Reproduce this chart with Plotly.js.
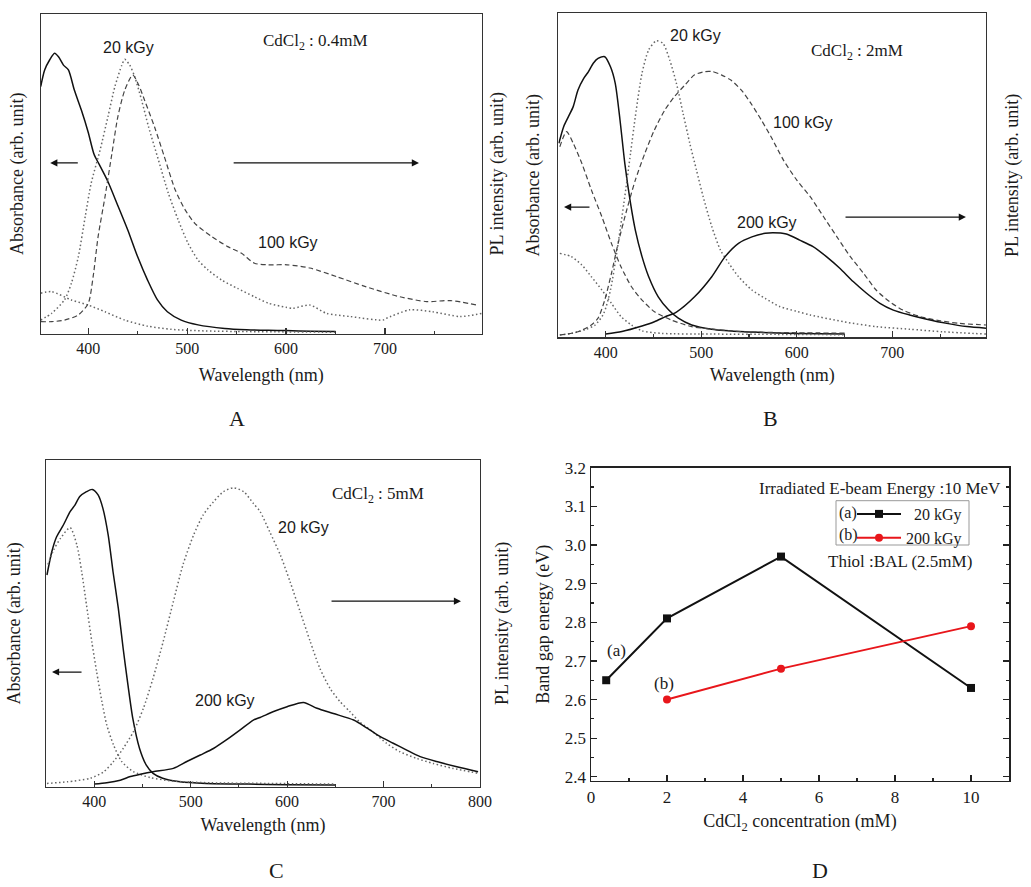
<!DOCTYPE html>
<html>
<head>
<meta charset="utf-8">
<script src="https://cdn.plot.ly/plotly-3.0.1.min.js"></script>
<style>html,body{margin:0;padding:0;background:#fff;}#chart{width:1031px;height:887px;}</style>
</head>
<body>
<div id="chart"></div>
<script>
// ---------------- DATA ----------------
// Panel A : CdCl2 0.4 mM
const A_abs_solid_x = [352,356,361,366,370,375,380,386,393,400,406,411,420,430,440,450,460,470,480,494,511,538,560,582,600,625,650];
const A_abs_solid_y = [77.3,82.5,85.6,87.7,86.6,84,82.5,76.2,70,63,56,53,47.5,40,32.4,24,16.7,10.5,6.8,4.2,2.7,1.6,1.2,1.0,0.9,0.7,0.6];
const A_abs_dot_x = [352,363,383,400,417,437,460,484,518,560,600,650];
const A_abs_dot_y = [12.6,13.1,10.5,8.9,6.8,4.2,2.3,1.3,0.8,0.6,0.5,0.4];
const A_pl20_x = [352,363,376,383,390,397,403,412,420,427,434,437,442,447,454,461,471,481,491,501,511,521,535,551,568,582,600,607,624,641,665,698,701,725,748,776,798];
const A_pl20_y = [4.2,6.3,10.5,15.7,24,36.6,47,57.4,67.9,77.3,84,85.8,84,80.4,73,64.7,54.3,43.9,35.5,28.2,23,19.9,16.7,14.1,11.5,9.5,8.2,7.9,8.9,6.3,5.3,4.2,4.7,7.4,6.8,5.3,6.3];
const A_pl100_x = [352,363,376,390,400,405,410,417,424,430,437,445,451,457,467,477,488,498,508,525,541,555,568,582,601,624,651,681,715,742,766,793];
const A_pl100_y = [3.7,3.7,4.2,5.8,9.4,17.8,30.3,42.8,56.4,67.9,76.2,80.9,77.8,73,64.7,55.3,44.9,38.7,34.4,30.3,27.2,25.1,22,21.5,21.5,20.5,17.8,14.6,11.5,10,10.3,8.9];

// Panel B : CdCl2 2 mM
const B_abs_solid_x = [351,356,361,366,371,377,382,387,392,399,405,410,415,420,426,431,438,445,455,466,476,490,511,546,600,650];
const B_abs_solid_y = [59.9,65,68.1,71.2,76.3,79.9,82,84.6,86.1,86.6,83.5,78.4,67,53.7,41.3,33.1,24.9,18.7,12.5,8.4,5.9,3.8,2.5,1.7,1.2,1.0];
const B_abs_dash_x = [352,359,366,375,385,396,406,416,427,438,451,469,490,518,546,600,650];
const B_abs_dash_y = [58.8,63.5,59.9,53.7,45.5,37.2,29,21.8,15.6,11.5,7.9,5.3,3.3,2.3,1.7,1.4,1.3];
const B_abs_dot_x = [352,364,375,385,396,406,416,427,438,459,511,580,650];
const B_abs_dot_y = [25.9,24.9,22.3,18.7,14.6,10.5,6.4,3.8,2,1.2,1,0.9,0.8];
const B_pl20_x = [352,364,378,389,398,405,412,419,426,431,438,445,453,460,467,474,481,488,495,502,511,520,529,539,553,567,582,600,614,649,683,718,753,798];
const B_pl20_y = [0.7,1.2,2.3,3.8,7.4,14.6,27,41.3,56.8,68.1,81.5,88.7,91.5,90.7,85.6,78.4,69.1,59.9,51.6,43.4,34.2,27,22.8,18.7,14.6,12,9.5,8,6.9,4.8,3.3,2.5,1.7,1];
const B_pl100_x = [352,371,385,392,399,406,413,422,431,441,451,462,472,483,493,504,512,521,531,542,552,563,573,586,600,614,628,642,656,670,683,697,711,729,750,770,798];
const B_pl100_y = [0.7,1.7,3.8,5.9,11.5,19.7,29,39.3,48.5,56.8,64,70.2,74.3,77.9,81,82,82,81,79.4,76.3,72.2,67,61.9,54.7,48.5,43.4,37.2,31,24.9,19.7,14.6,11,8.4,6.4,5.1,4.3,3.8];
const B_pl200_x = [400,417,438,451,462,474,493,511,525,539,553,567,575,589,603,617,631,645,659,673,687,701,718,736,757,778,798];
const B_pl200_y = [1,1.8,3.5,4.8,6.3,7.8,12.5,18.7,24.9,29,31,32.1,32.3,31.9,30,28,24.9,21.3,17.2,13.6,10.5,8.4,6.9,5.6,4.3,3.3,2.8];

// Panel C : CdCl2 5 mM
const C_abs_solid_x = [351,356,361,368,375,380,385,392,398,404,409,414.5,419.5,425,430,435,440,447,454,461,471,489,516,560,600,650];
const C_abs_solid_y = [64.8,71.9,76.5,80.1,84.2,86.2,88.8,90.3,91,89.3,85.2,77,65.8,54.6,42.3,31.1,20.9,11.7,6.6,4.1,2.6,1.5,1,0.8,0.6,0.5];
const C_abs_dot_x = [352,358,365,375,382,387,392,397.5,402.5,408,413,420,428.5,440.6,458,482,520,580,650];
const C_abs_dot_y = [68,72.5,76,79.3,74,65.8,55.6,44.4,35.2,26,18.9,12.8,7.7,4.6,2.8,1.7,1.2,1,0.8];
const C_pl20_x = [351,372,396,410,420,430,440.6,451,461,471.5,482,492,503,513,523.6,534,544.4,555,565,572,582,593,603,613.5,624,634,644.5,655,665,675,689,703,717,734,751.5,772,798];
const C_pl20_y = [1,1.5,2.6,4.6,7.7,11.7,16.8,24,33.2,44.4,56.6,67.9,77,83.2,87.2,90.3,91.5,90.3,86.7,84.2,78,70.9,62.8,53.6,44.4,36.2,30.1,26,23,19.9,16.8,13.3,10.7,8.7,7.1,5.6,4.1];
const C_pl200_x = [400,413,427,437.5,447.7,461,482,496,510,523.6,537,551,565,572,586,600,617,631,648,669,683,696.6,710,724,738,755,776,798];
const C_pl200_y = [0.8,1.2,2,3.1,3.8,4.6,5.6,7.7,9.7,11.7,14.3,17.3,20.4,21.2,23,24.5,25.8,24,22.4,20.4,17.9,15.3,13.3,11.2,9.2,7.7,6.1,4.6];

// Panel D : band gap energy vs CdCl2 concentration
const D_conc_a = [0.4, 2, 5, 10];
const D_gap_a  = [2.65, 2.81, 2.97, 2.63];
const D_conc_b = [2, 5, 10];
const D_gap_b  = [2.60, 2.68, 2.79];
const D_names  = ['\u00a0\u00a020 kGy', '200 kGy'];

// ---------------- STYLES ----------------
const SERIF = 'Liberation Serif';
const SANS = 'Liberation Sans';
const TXT = '#1a1a1a';
const S_SOLID = {color:'#111', width:1.5};
const S_DOT = {color:'#666', width:1.5, dash:'1.5px,2.5px'};
const S_DASH = {color:'#444', width:1.2, dash:'5px,3px'};

function W(px){return px/1031;}
function H(py){return 1-py/887;}

function line(x, y, xa, ya, st){
  return {type:'scatter', mode:'lines', x:x, y:y, xaxis:xa, yaxis:ya,
          line:Object.assign({shape:'spline', smoothing:0.7}, st), showlegend:false, hoverinfo:'skip'};
}

const traces = [
  // A
  line(A_abs_solid_x, A_abs_solid_y, 'x', 'y', S_SOLID),
  line(A_abs_dot_x, A_abs_dot_y, 'x', 'y', S_DOT),
  line(A_pl20_x, A_pl20_y, 'x', 'y2', S_DOT),
  line(A_pl100_x, A_pl100_y, 'x', 'y2', S_DASH),
  // B
  line(B_abs_solid_x, B_abs_solid_y, 'x2', 'y3', S_SOLID),
  line(B_abs_dash_x, B_abs_dash_y, 'x2', 'y3', S_DASH),
  line(B_abs_dot_x, B_abs_dot_y, 'x2', 'y3', S_DOT),
  line(B_pl20_x, B_pl20_y, 'x2', 'y4', S_DOT),
  line(B_pl100_x, B_pl100_y, 'x2', 'y4', S_DASH),
  line(B_pl200_x, B_pl200_y, 'x2', 'y4', S_SOLID),
  // C
  line(C_abs_solid_x, C_abs_solid_y, 'x3', 'y5', S_SOLID),
  line(C_abs_dot_x, C_abs_dot_y, 'x3', 'y5', S_DOT),
  line(C_pl20_x, C_pl20_y, 'x3', 'y6', S_DOT),
  line(C_pl200_x, C_pl200_y, 'x3', 'y6', S_SOLID),
  // D
  {type:'scatter', mode:'lines+markers', x:D_conc_a, y:D_gap_a, xaxis:'x4', yaxis:'y7', name:D_names[0],
   line:{color:'#111', width:2}, marker:{symbol:'square', size:8, color:'#111'}},
  {type:'scatter', mode:'lines+markers', x:D_conc_b, y:D_gap_b, xaxis:'x4', yaxis:'y7', name:D_names[1],
   line:{color:'#e8161b', width:2}, marker:{symbol:'circle', size:8, color:'#e8161b'}}
];

function specX(dom, rng, so){
  return {domain:dom, range:rng, showline:true, linecolor:'#333', linewidth:1.2, mirror:true,
    ticks:'inside', ticklen:6, tickwidth:1.2, tickcolor:'#333', tick0:400, dtick:100,
    minor:{dtick:50, tick0:350, ticks:'inside', ticklen:3, tickcolor:'#333'},
    showgrid:false, zeroline:false, tickfont:{family:SERIF, size:16, color:TXT},
    title:{text:'Wavelength (nm)', font:{family:SERIF, size:18, color:TXT}, standoff:so}};
}
function specYL(dom, anchor, so){
  return {domain:dom, range:[0,100], anchor:anchor, showline:true, linecolor:'#333', linewidth:1.2, mirror:true,
    ticks:'', showticklabels:false, showgrid:false, zeroline:false,
    title:{text:'Absorbance (arb. unit)', font:{family:SERIF, size:18, color:TXT}, standoff:so}};
}
function specYR(over, anchor, so){
  return {overlaying:over, anchor:anchor, side:'right', range:[0,100], showline:false,
    ticks:'', showticklabels:false, showgrid:false, zeroline:false,
    title:{text:'PL intensity (arb. unit)', font:{family:SERIF, size:18, color:TXT}, standoff:so}};
}

function arrow(xa, ya, hx, tx, yv){
  return {xref:xa, yref:ya, axref:xa, ayref:ya, x:hx, y:yv, ax:tx, ay:yv, text:'', showarrow:true,
          arrowhead:2, arrowsize:1.1, arrowwidth:1.3, arrowcolor:'#111'};
}
function lab(xa, ya, x, y, t, fam, size, anchor){
  return {xref:xa, yref:ya, x:x, y:y, text:t, showarrow:false, font:{family:fam, size:size, color:TXT},
          xanchor:anchor||'center', yanchor:'middle'};
}
function panel(t, px, py){
  return {xref:'paper', yref:'paper', x:W(px), y:H(py), text:t, showarrow:false,
          font:{family:SERIF, size:22, color:TXT}, xanchor:'center', yanchor:'middle'};
}

const layout = {
  width:1031, height:887, margin:{l:0, r:0, t:0, b:0},
  font:{family:SERIF, size:16, color:TXT},
  paper_bgcolor:'#fff', plot_bgcolor:'rgba(0,0,0,0)',
  showlegend:true,
  legend:{x:W(852), y:H(497), xanchor:'left', yanchor:'top', bgcolor:'rgba(0,0,0,0)', borderwidth:0,
          font:{family:SERIF, size:16, color:TXT}, tracegroupgap:0, itemwidth:44},
  xaxis: specX([W(40.7), W(482)], [352, 798], 12),
  yaxis: specYL([H(333.5), H(14)], 'x', 11),
  yaxis2: specYR('y', 'x', 8),
  xaxis2: Object.assign(specX([W(558.3), W(986)], [350.4, 798], 8), {anchor:'y3'}),
  yaxis3: specYL([H(337.3), H(13.3)], 'x2', 12),
  yaxis4: specYR('y3', 'x2', 19),
  xaxis3: Object.assign(specX([W(46), W(480)], [350, 800], 9), {anchor:'y5'}),
  yaxis5: specYL([H(786.7), H(460)], 'x3', 19),
  yaxis6: specYR('y5', 'x3', 15),
  xaxis4: {domain:[W(591), W(1009)], range:[0, 11], anchor:'y7', showline:true, linecolor:'#222', linewidth:1.5, mirror:true,
    ticks:'inside', ticklen:6, tickwidth:1.2, tickcolor:'#222', tick0:0, dtick:2,
    minor:{dtick:1, ticks:'inside', ticklen:3, tickcolor:'#222'},
    showgrid:false, zeroline:false, tickfont:{family:SERIF, size:17, color:TXT},
    title:{text:'CdCl<sub>2</sub> concentration (mM)', font:{family:SERIF, size:18, color:TXT}, standoff:9}},
  yaxis7: {domain:[H(780.7), H(467.7)], range:[2.39, 3.2], anchor:'x4', showline:true, linecolor:'#222', linewidth:1.5, mirror:'ticks',
    ticks:'inside', ticklen:6, tickwidth:1.2, tickcolor:'#222', tick0:2.4, dtick:0.1, tickformat:'.1f',
    minor:{dtick:0.05, ticks:'inside', ticklen:3, tickcolor:'#222'},
    showgrid:false, zeroline:false, tickfont:{family:SERIF, size:17, color:TXT},
    title:{text:'Band gap energy (eV)', font:{family:SERIF, size:18, color:TXT}, standoff:10}},
  shapes:[
    {type:'rect', xref:'paper', yref:'paper', x0:W(836), x1:W(969), y0:H(545), y1:H(500.7), line:{color:'#999', width:1}}
  ],
  annotations:[
    // A
    lab('x','y', 440.4, 89.4, '20 kGy', SANS, 16),
    lab('x','y', 629.3, 91.2, 'CdCl<sub>2</sub> : 0.4mM', SERIF, 17),
    lab('x','y', 602, 28.6, '100 kGy', SANS, 16),
    arrow('x','y', 361.6, 391, 53.4),
    arrow('x','y', 734.3, 545.5, 53.4),
    // B
    lab('x2','y3', 494.5, 93.3, '20 kGy', SANS, 16),
    lab('x2','y3', 663, 88, 'CdCl<sub>2</sub> : 2mM', SERIF, 17),
    lab('x2','y3', 606.4, 66.4, '100 kGy', SANS, 16),
    lab('x2','y3', 568.7, 35.3, '200 kGy', SANS, 16),
    arrow('x2','y3', 356.4, 384.6, 40.2),
    arrow('x2','y3', 777, 649.4, 37.1),
    // C
    lab('x3','y5', 694.3, 89.3, 'CdCl<sub>2</sub> : 5mM', SERIF, 17),
    lab('x3','y5', 616.5, 79.2, '20 kGy', SANS, 16),
    lab('x3','y5', 535.6, 26.5, '200 kGy', SANS, 16),
    arrow('x3','y5', 356.2, 388.4, 35.1),
    arrow('x3','y5', 780.3, 644.5, 56.8),
    // D
    lab('x4','y7', 10.84, 3.147, 'Irradiated E-beam Energy :10 MeV', SERIF, 17, 'right'),
    lab('x4','y7', 8.13, 2.957, 'Thiol :BAL (2.5mM)', SERIF, 17),
    lab('x4','y7', 0.66, 2.726, '(a)', SERIF, 17),
    lab('x4','y7', 1.93, 2.641, '(b)', SERIF, 17),
    {xref:'paper', yref:'paper', x:W(848), y:H(512.7), text:'(a)', showarrow:false, font:{family:SERIF, size:16, color:TXT}, xanchor:'center', yanchor:'middle'},
    {xref:'paper', yref:'paper', x:W(848), y:H(535.2), text:'(b)', showarrow:false, font:{family:SERIF, size:16, color:TXT}, xanchor:'center', yanchor:'middle'},
    // panel letters
    panel('A', 237, 418), panel('B', 770, 418), panel('C', 276, 870), panel('D', 820, 870)
  ]
};

Plotly.newPlot('chart', traces, layout, {displayModeBar:false, staticPlot:true});
</script>
</body>
</html>
